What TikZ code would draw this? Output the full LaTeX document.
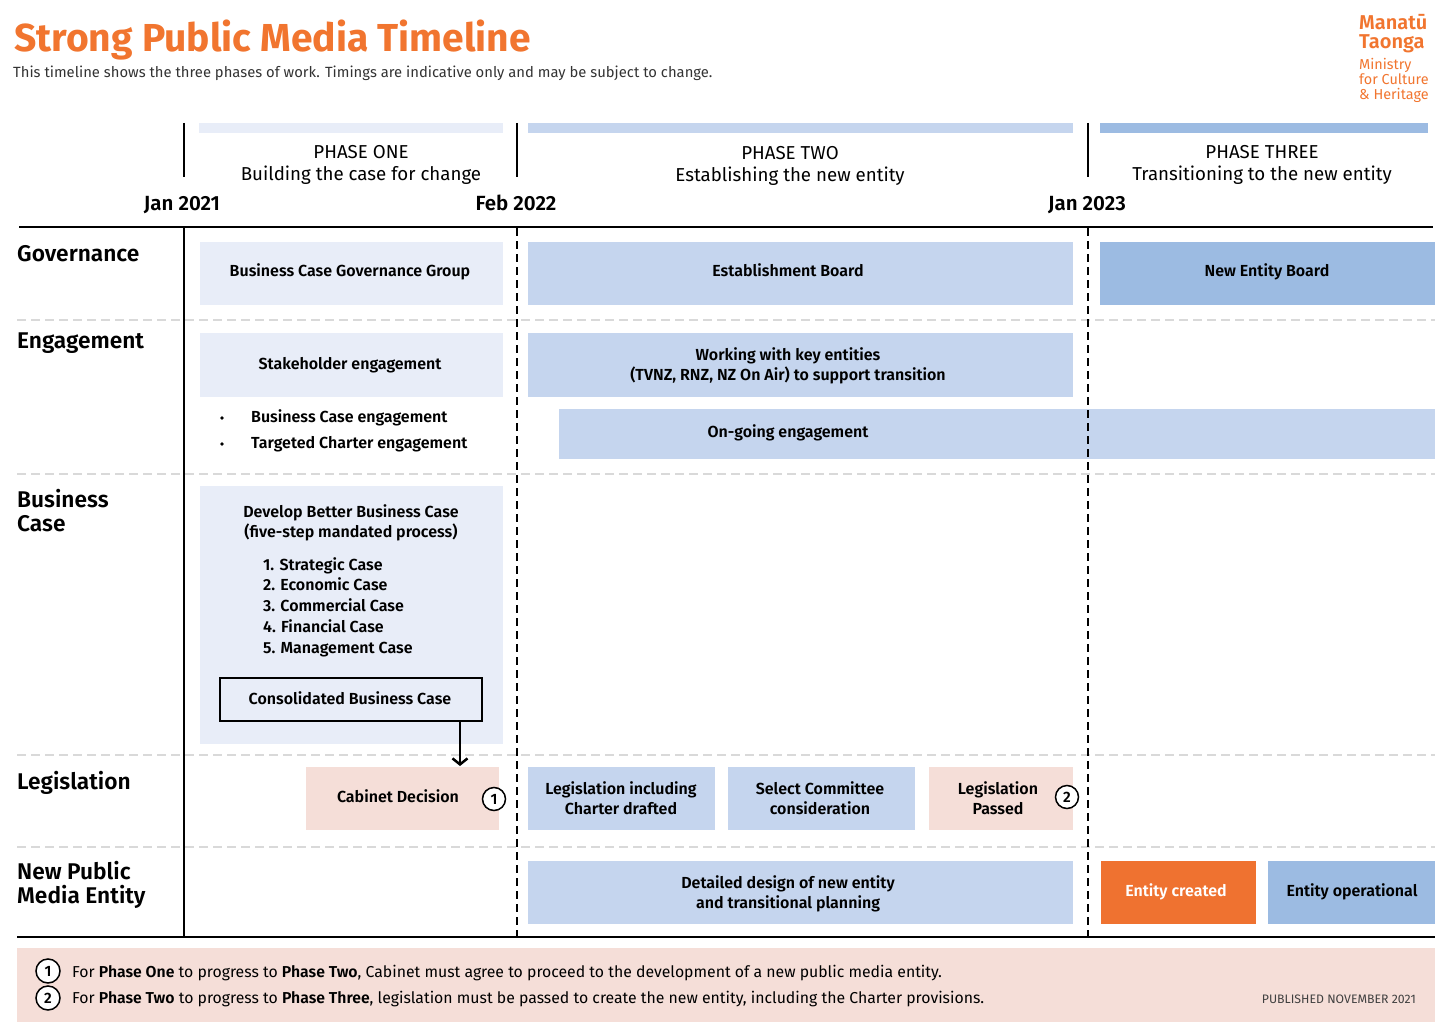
\documentclass[tikz,border=0pt]{standalone}
\usepackage{fontspec}
\usetikzlibrary{arrows.meta}
\setmainfont{Fira Sans}[BoldFont={Fira Sans SemiBold}]
\newfontfamily\heavyfont{Fira Sans Bold}
\definecolor{phaseone}{HTML}{E8EDF8}
\definecolor{phasetwo}{HTML}{C5D5EE}
\definecolor{phasethree}{HTML}{9CBBE2}
\definecolor{pinkbox}{HTML}{F5DED8}
\definecolor{orangebox}{HTML}{EF7230}
\definecolor{titleorange}{HTML}{F1752F}
\definecolor{rowline}{HTML}{D9D9D9}
\tikzset{
    box/.style={minimum width=#1, inner sep=0pt, align=center, font=\fontsize{16}{19.5}\selectfont\bfseries, execute at begin node=\vphantom{Tl(}, execute at end node=\vphantom{gp(}},
    lane/.style={anchor=north west, inner sep=0pt, align=left, font=\fontsize{22.7}{24.5}\selectfont\bfseries},
    date/.style={anchor=base, inner sep=0pt, font=\fontsize{20.5}{20}\selectfont\bfseries},
    phase/.style={inner sep=0pt, align=center, font=\fontsize{18.7}{21.5}\selectfont},
    txt/.style={inner sep=0pt, align=left, font=\fontsize{16}{20.75}\selectfont\bfseries},
    num/.style={draw=black, fill=white, circle, line width=1.5pt, minimum size=23pt, inner sep=0pt, font=\fontsize{15}{15}\selectfont\bfseries},
    rowsep/.style={rowline, line width=1.5pt, dash pattern=on 9pt off 5pt},
    datesep/.style={black, line width=1.5pt, dash pattern=on 8pt off 5pt},
    note/.style={anchor=west, inner sep=0pt, font=\fontsize{15.8}{18}\selectfont},
}
\newcommand{\bx}[7]{\node[box=#4pt-#3pt, minimum height=#6pt-#5pt, fill=#7] (#1) at ({(#3+#4)/2},{(#5+#6)/2}) {#2};}
\begin{document}
\begin{tikzpicture}[x=1pt, y=-1pt]
    \useasboundingbox (0,0) rectangle (1440,1022);
    % heading
    \node[anchor=west, inner sep=0pt, text=titleorange, font=\fontsize{39}{40}\selectfont\heavyfont] (title) at (14,40) {Strong Public Media Timeline};
    \node[anchor=west, inner sep=0pt, text=black!80, font=\fontsize{14.8}{18}\selectfont] (subtitle) at (13,73) {This timeline shows the three phases of work. Timings are indicative only and may be subject to change.};
    \node[anchor=north west, inner sep=0pt, align=left, text=titleorange, font=\fontsize{20}{19}\selectfont\bfseries] (logoa) at (1359,14) {Manatū\\Taonga};
    \node[anchor=north west, inner sep=0pt, align=left, text=titleorange, font=\fontsize{14.4}{15}\selectfont] (logob) at (1359,58) {Ministry\\for Culture\\\& Heritage};
    % phases
    \fill[phaseone] (199,123) rectangle (503,133);
    \fill[phasetwo] (528,123) rectangle (1073,133);
    \fill[phasethree] (1100,123) rectangle (1428,133);
    \node[phase] (phaseonetxt) at (361,165) {PHASE ONE\\Building the case for change};
    \node[phase] (phasetwotxt) at (790,166) {PHASE TWO\\Establishing the new entity};
    \node[phase] (phasethreetxt) at (1262,165) {PHASE THREE\\Transitioning to the new entity};
    \node[date] (datea) at (182,210) {Jan 2021};
    \node[date] (dateb) at (516,210) {Feb 2022};
    \node[date] (datec) at (1087,210) {Jan 2023};
    % row lines
    \foreach \y in {320,474,755,847}
        \draw[rowsep] (17,\y) -- (1435,\y);
    % row names
    \node[lane] (governance) at (17,245) {Governance};
    \node[lane] (engagement) at (17,333) {Engagement};
    \node[lane] (businesscase) at (17,489) {Business\\Case};
    \node[lane] (legislation) at (17,771) {Legislation};
    \node[lane] (newentity) at (17,861) {New Public\\Media Entity};
    % boxes
    \bx{bcgg}{}{200}{503}{242}{305}{phaseone}
    \node[box=0pt] (bcggtxt) at (350,271) {Business Case Governance Group};
    \bx{estboard}{}{528}{1073}{242}{305}{phasetwo}
    \node[box=0pt] (estboardtxt) at (788,271) {Establishment Board};
    \bx{newboard}{}{1100}{1435}{242}{305}{phasethree}
    \node[box=0pt] (newboardtxt) at (1267,271) {New Entity Board};
    \bx{stakeholder}{}{200}{503}{333}{397}{phaseone}
    \node[box=0pt] (stakeholdertxt) at (350,364) {Stakeholder engagement};
    \bx{working}{}{528}{1073}{333}{397}{phasetwo}
    \node[box=0pt] (workingtxt) at (788,366) {Working with key entities\\(TVNZ, RNZ, NZ On Air) to support transition};
    \bx{ongoing}{}{559}{1435}{409}{459}{phasetwo}
    \node[box=0pt] (ongoingtxt) at (788,432) {On-going engagement};
    \node[txt, anchor=west] (bulleta) at (251,418) {Business Case engagement};
    \node[txt, anchor=west] (bulletb) at (251,444) {Targeted Charter engagement};
    \fill (222,418) circle (1.8pt);
    \fill (222,444) circle (1.8pt);
    \bx{develop}{}{200}{503}{486}{744}{phaseone}
    \node[box=0pt] (developtxt) at (351,523) {Develop Better Business Case\\(five-step mandated process)};
    \node[txt, anchor=north west] (fivesteps) at (263,557) {1. Strategic Case\\2. Economic Case\\3. Commercial Case\\4. Financial Case\\5. Management Case};
    \node[box=262pt, minimum height=43pt, draw=black, line width=2pt] (consolidated) at (351,699) {};
    \node[box=0pt] (consolidatedtxt) at (350,699) {Consolidated Business Case};
    \bx{cabinet}{}{306}{499}{767}{830}{pinkbox}
    \node[box=0pt] (cabinettxt) at (398,797) {Cabinet Decision};
    \bx{drafted}{}{528}{715}{767}{830}{phasetwo}
    \node[box=0pt] (draftedtxt) at (621,800) {Legislation including\\Charter drafted};
    \bx{select}{}{728}{915}{767}{830}{phasetwo}
    \node[box=0pt] (selecttxt) at (820,800) {Select Committee\\consideration};
    \bx{passed}{}{929}{1073}{767}{830}{pinkbox}
    \node[box=0pt] (passedtxt) at (998,800) {Legislation\\Passed};
    \bx{detailed}{}{528}{1073}{861}{924}{phasetwo}
    \node[box=0pt] (detailedtxt) at (788,894) {Detailed design of new entity\\and transitional planning};
    \bx{created}{}{1101}{1256}{861}{924}{orangebox}
    \node[box=0pt, text=white] (createdtxt) at (1176,891) {Entity created};
    \bx{operational}{}{1268}{1435}{861}{924}{phasethree}
    \node[box=0pt] (operationaltxt) at (1352,891) {Entity operational};
    \node[num] (numa) at (494,799) {1};
    \node[num] (numb) at (1067,797) {2};
    % arrow
    \coordinate (arrowend) at (460,766);
    \draw[line width=2.5pt, -{Straight Barb[length=6pt, width=15pt]}] (consolidated.south -| arrowend) -- (arrowend);
    % date lines
    \foreach \x in {184,517,1088}
        \draw[black, line width=1.5pt] (\x,123) -- (\x,177);
    \draw[line width=2pt] (19,227) -- (1433,227);
    \draw[line width=2pt] (17,937) -- (1435,937);
    \draw[black, line width=2pt] (184,227) -- (184,937);
    \draw[datesep] (517,228) -- (517,937);
    \draw[datesep] (1088,228) -- (1088,937);
    % footer
    \fill[pinkbox] (17,948) rectangle (1435,1022);
    \node[num, minimum size=24pt] (notea) at (48,971) {1};
    \node[num, minimum size=24pt] (noteb) at (48,998) {2};
    \node[note] (notetxta) at (72,973) {For \textbf{Phase One} to progress to \textbf{Phase Two}, Cabinet must agree to proceed to the development of a new public media entity.};
    \node[note] (notetxtb) at (72,999) {For \textbf{Phase Two} to progress to \textbf{Phase Three}, legislation must be passed to create the new entity, including the Charter provisions.};
    \node[anchor=east, inner sep=0pt, text=black!75, font=\fontsize{12.3}{14}\selectfont] (published) at (1416,999) {PUBLISHED NOVEMBER 2021};
\end{tikzpicture}
\end{document}
